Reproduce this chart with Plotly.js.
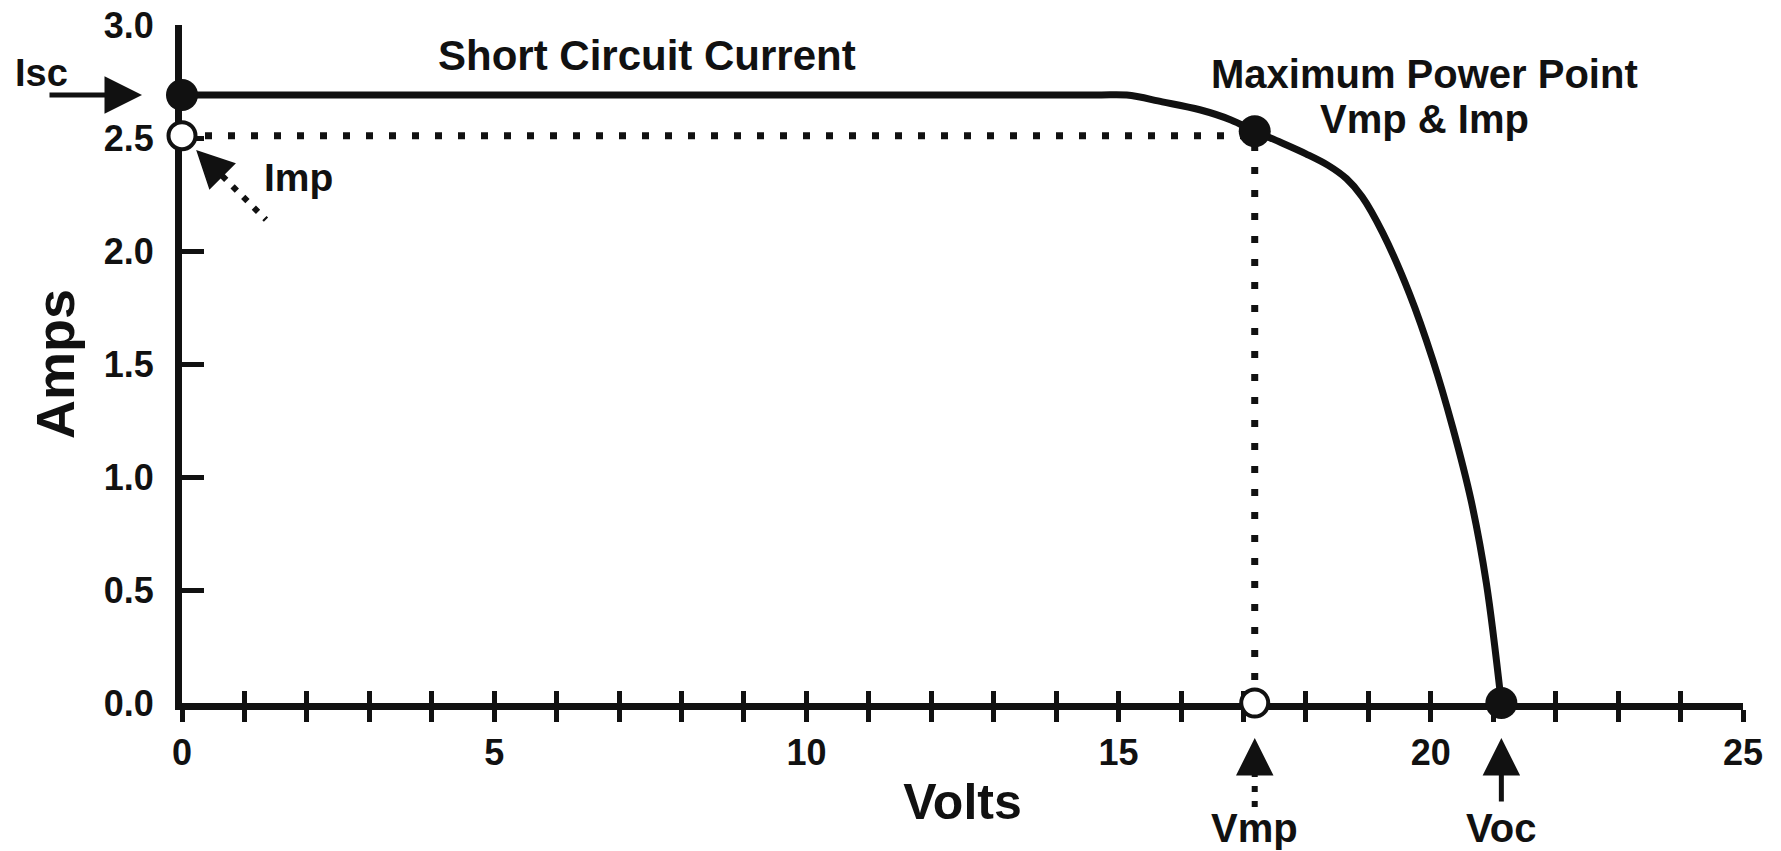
<!DOCTYPE html>
<html>
<head>
<meta charset="utf-8">
<script src="https://cdn.plot.ly/plotly-3.0.1.min.js"></script>
<style>
  html, body { margin: 0; padding: 0; background: #ffffff; }
  #chart { width: 1781px; height: 851px; }
</style>
</head>
<body>
<div id="chart"></div>
<script>
// ---- data ----
const volts = [0, 14.6, 15.13, 15.7, 16.3, 16.8, 17.18, 17.6, 18.0, 18.35, 18.65, 18.9, 19.23, 19.66, 20.03, 20.35, 20.65, 20.89, 21.13];
const amps  = [2.69, 2.69, 2.69, 2.66, 2.625, 2.58, 2.53, 2.48, 2.43, 2.38, 2.32, 2.24, 2.08, 1.81, 1.52, 1.22, 0.89, 0.53, 0];

const iscAmps  = 2.69;   // short circuit current
const impAmps  = 2.51;   // current at maximum power
const vmpVolts = 17.18;  // voltage at maximum power
const mppAmps  = 2.53;   // curve value at Vmp
const vocVolts = 21.13;  // open circuit voltage

const xRange = [0, 25];
const yRange = [0, 3];

// ---- styles ----
const INK = '#111111';
const FAMILY = 'Liberation Sans, Arial, Helvetica, sans-serif';
const bold = (size) => ({ family: FAMILY, size: size, color: INK, weight: 'bold' });
const DOTS = '7px,16px';
const HEAD = { arrowhead: 2, arrowsize: 1.5, arrowwidth: 5, arrowcolor: INK };

const traces = [
  { // Imp dotted guide
    x: [0, vmpVolts], y: [impAmps, impAmps], xaxis: 'x', yaxis: 'y',
    mode: 'lines', line: { color: INK, width: 7, dash: DOTS }, hoverinfo: 'skip', cliponaxis: false
  },
  { // Vmp dotted guide
    x: [vmpVolts, vmpVolts], y: [0, impAmps], xaxis: 'x', yaxis: 'y',
    mode: 'lines', line: { color: INK, width: 7, dash: DOTS }, hoverinfo: 'skip', cliponaxis: false
  },
  { // I-V curve
    x: volts, y: amps, xaxis: 'x', yaxis: 'y',
    mode: 'lines', line: { color: INK, width: 7, shape: 'spline', smoothing: 1 }, cliponaxis: false
  },
  { // filled key points: Isc, MPP, Voc
    x: [0, vmpVolts, vocVolts], y: [iscAmps, mppAmps, 0], xaxis: 'x', yaxis: 'y',
    mode: 'markers', marker: { size: 32, color: INK }, cliponaxis: false
  },
  { // open points: Imp on the current axis, Vmp on the voltage axis
    x: [0, vmpVolts], y: [impAmps, 0], xaxis: 'x', yaxis: 'y',
    mode: 'markers', marker: { size: 27, color: '#ffffff', line: { color: INK, width: 4 } }, cliponaxis: false
  },
  { // carrier for the overlay axis that draws the upper half of the crossing ticks
    x: [xRange[0]], y: [yRange[0]], xaxis: 'x2', yaxis: 'y',
    mode: 'markers', marker: { size: 1, opacity: 0 }, hoverinfo: 'skip'
  }
];

const layout = {
  width: 1781,
  height: 851,
  margin: { l: 182, r: 38, t: 25, b: 148, pad: 0 },
  paper_bgcolor: '#ffffff',
  plot_bgcolor: '#ffffff',
  showlegend: false,
  font: bold(36),
  xaxis: {
    range: xRange,
    tick0: 0, dtick: 5,
    ticks: 'outside', ticklen: 12, tickwidth: 5, tickcolor: INK,
    minor: { tick0: 0, dtick: 1, ticks: 'outside', ticklen: 12, tickwidth: 5, tickcolor: INK, showgrid: false },
    showline: true, linewidth: 7, linecolor: INK,
    showgrid: false, zeroline: false,
    tickfont: bold(36),
    ticklabelstandoff: 0,
    title: { text: 'Volts', font: bold(50), standoff: 14 },
    layer: 'below traces',
    fixedrange: true
  },
  xaxis2: {
    overlaying: 'x', anchor: 'y', side: 'bottom',
    range: xRange,
    tick0: 0, dtick: 1,
    ticks: 'inside', ticklen: 12, tickwidth: 5, tickcolor: INK,
    showticklabels: false, showline: false, showgrid: false, zeroline: false,
    layer: 'below traces',
    fixedrange: true
  },
  yaxis: {
    range: yRange,
    tick0: 0, dtick: 0.5, tickformat: '.1f',
    ticks: 'inside', ticklen: 22, tickwidth: 5, tickcolor: INK,
    showline: true, linewidth: 7, linecolor: INK,
    showgrid: false, zeroline: false,
    tickfont: bold(36),
    ticklabelstandoff: 14,
    title: { text: 'Amps', font: bold(54), standoff: 14 },
    layer: 'below traces',
    fixedrange: true
  },
  annotations: [
    { // curve label over the flat part
      x: 7.45, y: iscAmps, xref: 'x', yref: 'y', yshift: 40,
      text: 'Short Circuit Current', showarrow: false, font: bold(42)
    },
    { // Isc label
      x: 0, y: iscAmps, xref: 'x', yref: 'y', xshift: -141, yshift: 22,
      text: 'Isc', showarrow: false, font: bold(38)
    },
    Object.assign({ // Isc arrow
      x: 0, y: iscAmps, xref: 'x', yref: 'y', ax: -134, ay: 0,
      text: '', showarrow: true, standoff: 40
    }, HEAD),
    { // Imp label
      x: 0, y: impAmps, xref: 'x', yref: 'y', xshift: 116, yshift: -42,
      text: 'Imp', showarrow: false, font: bold(39)
    },
    Object.assign({ // Imp arrowhead (shaft is a dotted shape)
      x: 0, y: impAmps, xref: 'x', yref: 'y', ax: 40, ay: 40,
      text: '', showarrow: true, standoff: 20
    }, HEAD),
    Object.assign({ // Vmp arrowhead (shaft is a dotted shape)
      x: vmpVolts, y: 0, xref: 'x', yref: 'y', ax: 0, ay: 66,
      text: '', showarrow: true, standoff: 35
    }, HEAD),
    Object.assign({ // Voc arrow
      x: vocVolts, y: 0, xref: 'x', yref: 'y', ax: 0, ay: 100,
      text: '', showarrow: true, standoff: 35
    }, HEAD),
    { // Vmp label
      x: vmpVolts, y: 0, xref: 'x', yref: 'y', yshift: -125,
      text: 'Vmp', showarrow: false, font: bold(40)
    },
    { // Voc label
      x: vocVolts, y: 0, xref: 'x', yref: 'y', yshift: -125,
      text: 'Voc', showarrow: false, font: bold(40)
    },
    { // MPP labels
      x: vmpVolts, y: mppAmps, xref: 'x', yref: 'y', xshift: 170, yshift: 57,
      text: 'Maximum Power Point', showarrow: false, font: bold(40)
    },
    {
      x: vmpVolts, y: mppAmps, xref: 'x', yref: 'y', xshift: 170, yshift: 12,
      text: 'Vmp &amp; Imp', showarrow: false, font: bold(40)
    }
  ],
  shapes: [
    { // dotted shaft of the Imp arrow
      type: 'line', xref: 'x', yref: 'y', xsizemode: 'pixel', ysizemode: 'pixel',
      xanchor: 0, yanchor: impAmps, x0: 40, y0: -40, x1: 84, y1: -84,
      line: { color: INK, width: 6, dash: '6px,9px' }, layer: 'above'
    },
    { // dotted shaft of the Vmp arrow (paper y so it is not clipped below the axis)
      type: 'line', xref: 'x', yref: 'paper', xsizemode: 'pixel', ysizemode: 'pixel',
      xanchor: vmpVolts, yanchor: 0, x0: 0, y0: -68, x1: 0, y1: -104,
      line: { color: INK, width: 6, dash: '6px,9px' }, layer: 'above'
    }
  ]
};

Plotly.newPlot('chart', traces, layout, { displayModeBar: false, staticPlot: true });
</script>
</body>
</html>
